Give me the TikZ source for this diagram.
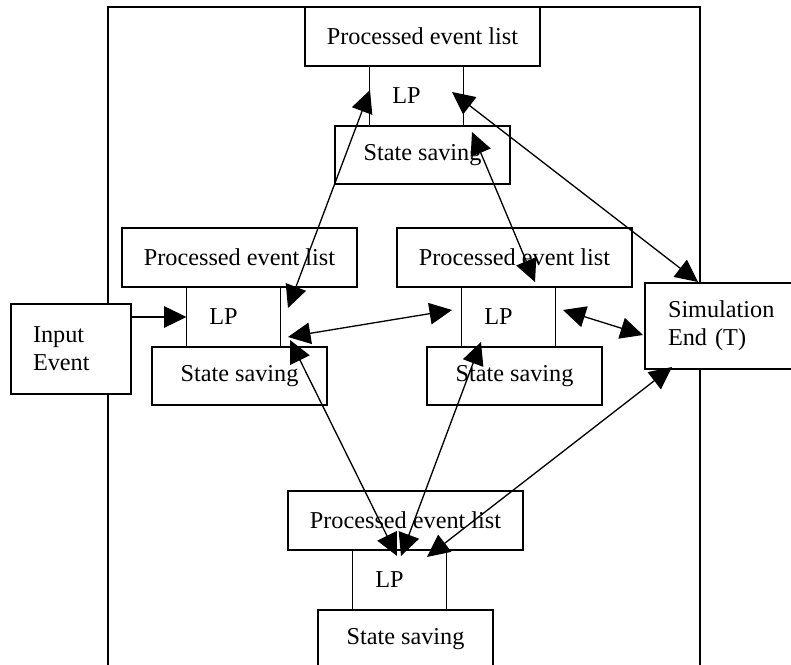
\documentclass[tikz,border=0pt]{standalone}
\usepackage{fontspec}
\setmainfont{Liberation Serif}
\usetikzlibrary{arrows.meta,positioning}

\begin{document}
\begin{tikzpicture}[x=0.02cm, y=-0.02cm,
    box/.style={draw, fill=white, rectangle, line width=1.2pt, outer sep=0pt, inner sep=0pt, align=center, font=\fontsize{13.8}{16}\selectfont},
    evlist/.style={box, minimum width=4.7cm, minimum height=1.18cm},
    lpbox/.style={rectangle, outer sep=0pt, inner sep=0pt, minimum width=1.88cm, minimum height=1.2cm},
    lptext/.style={font=\fontsize{13.8}{16}\selectfont, xshift=-0.2cm},
    saving/.style={box, minimum width=3.5cm, minimum height=1.16cm},
    sidebox/.style={box, align=left, inner xsep=0.45cm},
    arrow/.style={-{Triangle[length=4.5mm,width=4.3mm]}, line width=0.75pt},
    biarrow/.style={{Triangle[length=4.5mm,width=4.3mm]}-{Triangle[length=4.5mm,width=4.3mm]}, line width=0.75pt}
]
\useasboundingbox (0,0) rectangle (791,665);
\clip (0,0) rectangle (791,665);

% outer frame
\draw[line width=1.2pt] (108,690) -- (108,7) -- (700,7) -- (700,690);

% top LP
\node[evlist] (pelT) at (422.5,36.5) {Processed event list};
\node[lpbox, below=0pt of pelT, xshift=-0.12cm, label={[lptext]center:LP}] (lpT) {};
\node[saving, below=0pt of lpT, xshift=0.12cm] (ssT) {State saving};

% left LP
\node[evlist] (pelL) at (239.5,257.5) {Processed event list};
\node[lpbox, below=0pt of pelL, xshift=-0.12cm, label={[lptext]center:LP}] (lpL) {};
\node[saving, below=0pt of lpL, xshift=0.12cm] (ssL) {State saving};

% middle LP
\node[evlist] (pelM) at (514.5,257.5) {Processed event list};
\node[lpbox, below=0pt of pelM, xshift=-0.12cm, label={[lptext]center:LP}] (lpM) {};
\node[saving, below=0pt of lpM, xshift=0.12cm] (ssM) {State saving};

% bottom LP
\node[evlist] (pelB) at (405.5,520.5) {Processed event list};
\node[lpbox, below=0pt of pelB, xshift=-0.12cm, label={[lptext]center:LP}] (lpB) {};
\node[saving, below=0pt of lpB, xshift=0.12cm] (ssB) {State saving};

\foreach \n in {lpT,lpL,lpM,lpB}
  \draw[line width=1pt] (\n.north west) -- (\n.south west) (\n.north east) -- (\n.south east);

\node[sidebox, text width=1.52cm, inner xsep=0.44cm, minimum height=1.8cm] (inp) at (71,349) {Input\\Event};
\node[sidebox, text width=2.28cm, inner xsep=0.46cm, minimum height=1.72cm] (sim) at (725,326) {Simulation\\End (T)};

\draw[arrow] (inp.east |- lpL.west) -- (lpL.west);
\draw[biarrow] ([shift={(0.5,-6)}]lpT.west) -- ([shift={(7.5,-9)}]lpL.east);
\draw[biarrow] ([shift={(8.5,6)}]lpT.south east) -- ([shift={(26.5,-5)}]lpM.north);
\draw[biarrow] ([shift={(-11.5,-4)}]lpT.east) -- ([shift={(53,-1)}]sim.north west);
\draw[biarrow] ([shift={(7.5,-10)}]lpL.south east) -- ([shift={(-9.5,-7)}]lpM.west);
\draw[biarrow] ([shift={(7.5,-7)}]lpM.east) -- ([shift={(-2,9)}]sim.west);
\draw[biarrow] ([shift={(9.5,-7)}]lpL.south east) -- ([shift={(-2.5,6)}]lpB.north);
\draw[biarrow] ([shift={(19.5,-5)}]lpM.south west) -- ([shift={(1.5,6)}]lpB.north);
\draw[biarrow] ([shift={(-19.5,7)}]lpB.north east) -- ([shift={(27,-2)}]sim.south west);

\end{tikzpicture}
\end{document}
